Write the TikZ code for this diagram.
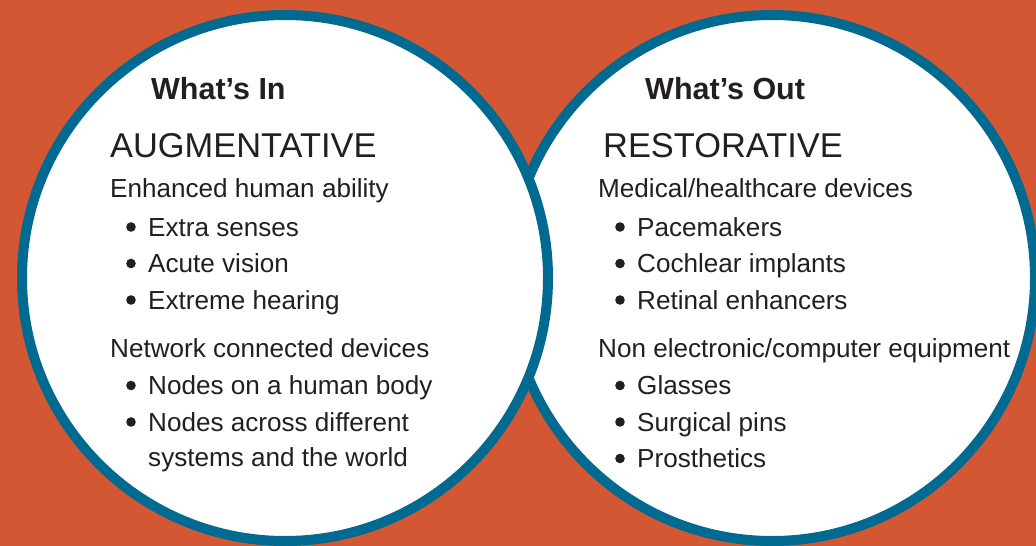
\documentclass[tikz,border=0pt]{standalone}
\usepackage{fontspec}
\setmainfont{Liberation Sans}
\definecolor{bg}{HTML}{D45734}
\definecolor{ring}{HTML}{006A90}
\definecolor{ink}{HTML}{231F20}
\tikzset{
  circ/.style={fill=white, draw=ring, line width=10pt},
  head/.style={anchor=base west, inner sep=0pt, text=ink, font=\bfseries\fontsize{30.5}{36}\selectfont},
  big/.style={anchor=base west, inner sep=0pt, text=ink, font=\fontsize{34.4}{40}\selectfont},
  body/.style={anchor=base west, inner sep=0pt, text=ink, font=\fontsize{26.1}{30}\selectfont},
  bul/.style={circle, fill=ink, inner sep=0pt, minimum size=9.6pt}
}
\begin{document}
\begin{tikzpicture}[x=1pt,y=-1pt]
\fill[bg] (0,0) rectangle (1036,546);
\useasboundingbox (0,0) rectangle (1036,546);
\begin{scope}
\clip (0,0) rectangle (1036,546);
\draw[circ] (772,278) circle[radius=263pt];
\draw[circ] (285,278) circle[radius=263pt];
\end{scope}
% left
\node[head] (lh) at (151,99) {What’s In};
\node[big] (lt) at (110,157) {AUGMENTATIVE};
\node[body] (l1) at (110,197) {Enhanced human ability};
\node[bul] (lb1) at (131,227) {};
\node[body] (l1a) at (148,236) {Extra senses};
\node[bul] (lb2) at (131,263.5) {};
\node[body] (l1b) at (148,272.5) {Acute vision};
\node[bul] (lb3) at (131,300) {};
\node[body] (l1c) at (148,309) {Extreme hearing};
\node[body] (l2) at (110,357) {Network connected devices};
\node[bul] (lb4) at (131,385.5) {};
\node[body] (l2a) at (148,394.5) {Nodes on a human body};
\node[bul] (lb5) at (131,422) {};
\node[body] (l2b) at (148,431) {Nodes across different};
\node[body] (l2c) at (148,466) {systems and the world};
% right
\node[head] (rh) at (645,99) {What’s Out};
\node[big] (rt) at (603,157) {RESTORATIVE};
\node[body] (r1) at (598,197) {Medical/healthcare devices};
\node[bul] (rb1) at (620,227) {};
\node[body] (r1a) at (637,236) {Pacemakers};
\node[bul] (rb2) at (620,263.5) {};
\node[body] (r1b) at (637,272.5) {Cochlear implants};
\node[bul] (rb3) at (620,300) {};
\node[body] (r1c) at (637,309) {Retinal enhancers};
\node[body] (r2) at (598,357) {Non electronic/computer equipment};
\node[bul] (rb4) at (620,385.5) {};
\node[body] (r2a) at (637,394.5) {Glasses};
\node[bul] (rb5) at (620,422) {};
\node[body] (r2b) at (637,431) {Surgical pins};
\node[bul] (rb6) at (620,458.5) {};
\node[body] (r2c) at (637,467.5) {Prosthetics};
\end{tikzpicture}
\end{document}
